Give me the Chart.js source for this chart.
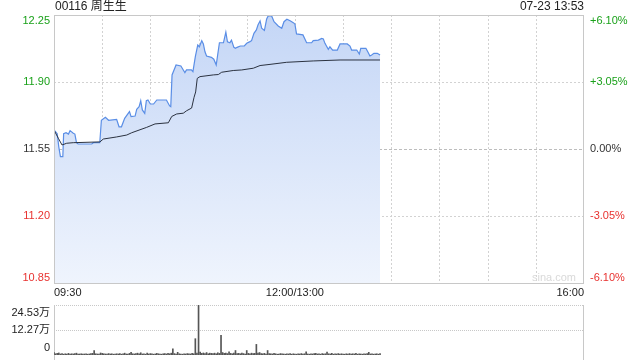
<!DOCTYPE html>
<html><head><meta charset="utf-8">
<script src="https://cdn.jsdelivr.net/npm/chart.js@4.4.0/dist/chart.umd.min.js"></script>
<style>
html,body{margin:0;padding:0;background:#fff;width:640px;height:360px;overflow:hidden}
canvas{position:absolute;left:0}
#c1{top:0}
#c2{top:300px}
</style></head><body>
<canvas id="c1" width="640" height="300"></canvas>
<canvas id="c2" width="640" height="60"></canvas>
<script>
// ---- data ----
const stockTitle = '00116 周生生';
const stamp = '07-23 13:53';
const priceTicks = [10.85, 11.20, 11.55, 11.90, 12.25];
const priceTickColors = ['#e8312f', '#e8312f', '#333333', '#1aa11a', '#1aa11a'];
const pctTicks = [-6.10, -3.05, 0, 3.05, 6.10];
const pctLabels = ['-6.10%', '-3.05%', '0.00%', '+3.05%', '+6.10%'];
const timeGrid = [0, 30, 60, 90, 120, 150, 180, 210, 240, 270, 300, 330];
const timeLabels = {0: '09:30', 150: '12:00/13:00', 330: '16:00'};

const priceTimes = [0,2,3,4,5.5,6,7.5,9,10,12,13,14,15,23.5,24.5,28.5,29.5,32,34,39,40.5,42,44,47,48,50.5,51.5,53,54,55,56.5,57.5,58.5,60,62,64,70,72,72.7,73.5,76,79,80.5,81.5,82.5,85.5,86.5,88,89.5,90.5,92,93,94,95,98,99.5,101,103,105.5,107,108,109.5,110.5,112,113,114,116,118.5,120,122,123,124.5,126,127,128.3,129.3,131,132.4,133.4,135.5,137,139.6,141.8,143.2,145,147,149,150,151,155,157.3,160.4,161.4,164.6,166.7,167.7,168.7,170.8,171.8,173.5,176.4,178.1,182.6,184.3,185.3,188.5,190.1,191,194.2,195.7,196.7,197.8,199.2,201.3,203];
const prices = [11.65,11.63,11.56,11.51,11.51,11.63,11.635,11.628,11.646,11.632,11.628,11.583,11.576,11.576,11.583,11.583,11.70,11.716,11.70,11.705,11.666,11.666,11.71,11.745,11.719,11.722,11.757,11.771,11.802,11.754,11.736,11.802,11.806,11.785,11.785,11.806,11.806,11.775,11.771,11.937,11.989,11.984,11.963,11.949,11.963,11.963,11.954,12.032,12.093,12.084,12.116,12.099,12.058,12.036,12.029,12.019,11.989,12.105,12.105,12.161,12.11,12.105,12.119,12.081,12.076,12.081,12.088,12.088,12.102,12.111,12.116,12.154,12.172,12.198,12.219,12.181,12.169,12.229,12.245,12.245,12.215,12.193,12.181,12.215,12.228,12.22,12.21,12.203,12.151,12.146,12.105,12.105,12.116,12.119,12.128,12.125,12.102,12.071,12.084,12.067,12.067,12.099,12.099,12.088,12.067,12.067,12.046,12.076,12.076,12.053,12.036,12.041,12.05,12.05,12.041];

const avgTimes = [0,2.7,5,7.9,12,28.6,30.7,39,45.3,48.4,57.7,62.9,71.2,73.3,76.4,80.5,82.6,85.7,87.2,88.2,89.2,90.9,99.2,102.3,104.4,111.6,116.9,124.1,128.3,134.5,144.9,161.4,178.1,203];
const avgPrices = [11.649,11.606,11.571,11.58,11.583,11.587,11.602,11.613,11.623,11.635,11.663,11.681,11.687,11.72,11.733,11.737,11.75,11.764,11.82,11.848,11.919,11.928,11.937,11.939,11.951,11.96,11.963,11.972,11.986,11.992,12.003,12.01,12.015,12.015];

// volume per minute, in 万 shares
const volumes = [
1.2,0.6,0.8,1.0,0.5,0.7,0.4,0.6,0.5,0.8, 0.4,0.6,0.5,0.7,0.9,0.4,0.5,0.6,0.4,0.5,
0.6,0.4,0.5,0.7,0.8,2.2,0.6,0.5,0.4,1.0, 0.8,0.6,0.5,0.4,0.7,0.5,0.6,0.4,0.5,0.6,
0.5,0.7,0.4,0.6,0.9,0.5,0.4,0.8,1.3,0.6, 0.5,0.7,0.9,0.6,1.1,0.5,0.6,0.4,1.0,0.5,
0.7,0.6,0.4,0.5,0.8,0.6,0.5,0.4,0.6,0.7, 0.5,0.8,0.6,0.9,3.0,0.7,0.5,1.3,0.6,0.5,
0.4,0.6,0.5,0.7,0.6,0.5,0.8,0.6,8.0,0.9, 24.53,1.4,0.8,1.0,0.7,1.2,0.6,0.9,0.8,0.7,
0.9,0.6,1.1,0.8,9.6,1.2,0.8,0.9,0.7,1.5, 0.8,0.6,0.9,2.2,0.7,0.8,0.6,1.0,0.7,0.5,
2.2,0.8,0.6,0.9,0.7,0.8,5.2,0.9,1.2,0.7, 0.6,0.8,0.5,2.2,0.7,0.6,0.5,0.8,0.6,0.4,
0.5,0.7,0.6,0.5,0.4,0.6,0.5,0.7,0.4,0.6, 0.5,0.4,0.6,0.5,0.7,0.4,0.6,1.6,0.5,0.4,
0.6,0.5,0.7,0.8,0.5,0.6,0.4,0.7,0.5,0.6, 1.4,0.6,0.5,0.8,0.4,0.6,0.5,0.7,0.4,0.6,
0.5,0.4,0.6,0.5,0.7,0.4,0.6,0.5,0.8,0.4, 0.6,0.5,0.4,0.6,0.5,0.7,1.3,0.5,0.6,0.4,
0.5,0.6,0.4,0.7];
const volTicks = [0, 12.27, 24.53];
const volLabels = ['0', '12.27万', '24.53万'];

const FONT = '"Liberation Sans", Arial, "Noto Sans CJK SC", sans-serif';
const edgeOffset = [-5.5, 0, 0, 0, 5.5];

// ---- main price chart ----
const framePlugin = {
  id: 'frame',
  beforeDatasetsDraw(chart) {
    const {ctx, chartArea: a, scales} = chart;
    ctx.save();
    ctx.lineWidth = 1;
    ctx.strokeStyle = '#d2d2d2';
    ctx.setLineDash([2, 2]);
    timeGrid.slice(1, -1).forEach(t => {
      const x = Math.round(scales.x.getPixelForValue(t)) + 0.5;
      ctx.beginPath(); ctx.moveTo(x, a.top); ctx.lineTo(x, a.bottom); ctx.stroke();
    });
    priceTicks.slice(1, -1).forEach(v => {
      const y = Math.round(scales.y.getPixelForValue(v)) + 0.5;
      if (v === 11.55) { ctx.strokeStyle = '#bdbdbd'; ctx.setLineDash([3, 2]); }
      else { ctx.strokeStyle = '#d2d2d2'; ctx.setLineDash([2, 2]); }
      ctx.beginPath(); ctx.moveTo(a.left, y); ctx.lineTo(a.right, y); ctx.stroke();
    });
    ctx.setLineDash([]);
    ctx.fillStyle = '#d9d9d9';
    ctx.font = '11px ' + FONT;
    ctx.textAlign = 'right'; ctx.textBaseline = 'alphabetic';
    ctx.fillText('sina.com', a.right - 8, a.bottom - 2);
    ctx.restore();
  },
  afterDraw(chart) {
    const {ctx, chartArea: a, scales} = chart;
    ctx.save();
    ctx.strokeStyle = '#c8c8c8'; ctx.lineWidth = 1;
    ctx.strokeRect(Math.round(a.left) + 0.5, Math.round(a.top) + 0.5, Math.round(a.right - a.left) - 1, Math.round(a.bottom - a.top));
    // axis labels (placed from the scales; the edge labels sit inside the frame)
    ctx.font = '11px ' + FONT;
    ctx.textBaseline = 'middle';
    priceTicks.forEach((v, i) => {
      const y = scales.y.getPixelForValue(v) + edgeOffset[i];
      ctx.fillStyle = priceTickColors[i];
      ctx.textAlign = 'right';
      ctx.fillText(v.toFixed(2), a.left - 4, y);
    });
    pctTicks.forEach((v, i) => {
      const y = scales.y2.getPixelForValue(v) + edgeOffset[i];
      ctx.fillStyle = priceTickColors[i];
      ctx.textAlign = 'left';
      ctx.fillText(pctLabels[i], a.right + 6, y);
    });
    ctx.fillStyle = '#222';
    ctx.font = '12px ' + FONT;
    ctx.textAlign = 'left';
    ctx.fillText(stockTitle, a.left + 1, 7);
    ctx.textAlign = 'right';
    ctx.fillText(stamp, a.right, 7);
    ctx.restore();
  }
};

new Chart(document.getElementById('c1'), {
  type: 'line',
  data: {
    datasets: [
      {
        label: 'avg',
        data: avgTimes.map((t, i) => ({x: t, y: avgPrices[i]})),
        borderColor: '#2b3240', borderWidth: 1, pointRadius: 0, fill: false, tension: 0
      },
      {
        label: 'price',
        data: priceTimes.map((t, i) => ({x: t, y: prices[i]})),
        borderColor: '#5a8ee6', borderWidth: 1.2, pointRadius: 0, tension: 0,
        fill: 'start',
        backgroundColor: (c) => {
          const a = c.chart.chartArea;
          if (!a) return 'rgba(210,224,248,1)';
          const g = c.chart.ctx.createLinearGradient(0, a.top, 0, a.bottom);
          g.addColorStop(0, 'rgba(196,214,246,1)');
          g.addColorStop(1, 'rgba(239,244,253,1)');
          return g;
        }
      }
    ]
  },
  options: {
    responsive: false, animation: false,
    layout: {padding: {top: 15, left: 0, right: 0, bottom: 0}},
    plugins: {legend: {display: false}, tooltip: {enabled: false}},
    scales: {
      x: {
        type: 'linear', min: 0, max: 330,
        afterBuildTicks: s => { s.ticks = timeGrid.map(v => ({value: v})); },
        afterFit: s => { s.height = 17; },
        ticks: {
          autoSkip: false, maxRotation: 0, align: 'inner', padding: 3,
          color: '#222', font: {size: 11, family: FONT},
          callback: v => timeLabels[v] || ''
        },
        grid: {display: false, drawTicks: false, tickLength: 0}, border: {display: false}
      },
      y: {
        position: 'left', min: 10.85, max: 12.25,
        afterBuildTicks: s => { s.ticks = priceTicks.map(v => ({value: v})); },
        afterFit: s => { s.width = 54; },
        ticks: {display: false},
        grid: {display: false, drawTicks: false, tickLength: 0}, border: {display: false}
      },
      y2: {
        position: 'right', min: -6.10, max: 6.10,
        afterBuildTicks: s => { s.ticks = pctTicks.map(v => ({value: v})); },
        afterFit: s => { s.width = 56; },
        ticks: {display: false},
        grid: {display: false, drawTicks: false, tickLength: 0}, border: {display: false}
      }
    }
  },
  plugins: [framePlugin]
});

// ---- volume chart ----
const volPlugin = {
  id: 'volframe',
  beforeDatasetsDraw(chart) {
    const {ctx, chartArea: a, scales} = chart;
    ctx.save();
    ctx.lineWidth = 1;
    ctx.strokeStyle = '#c8c8c8';
    ctx.setLineDash([1, 1]);
    [volTicks[1], volTicks[2]].forEach(v => {
      const y = Math.round(scales.y.getPixelForValue(v)) + 0.5;
      ctx.beginPath(); ctx.moveTo(a.left, y); ctx.lineTo(a.right, y); ctx.stroke();
    });
    ctx.setLineDash([]);
    const l = Math.round(a.left) + 0.5, r = Math.round(a.right) - 0.5;
    ctx.beginPath(); ctx.moveTo(l, a.top); ctx.lineTo(l, a.bottom + 5); ctx.stroke();
    ctx.beginPath(); ctx.moveTo(r, a.top); ctx.lineTo(r, a.bottom + 5); ctx.stroke();
    ctx.fillStyle = '#222';
    ctx.font = '11px ' + FONT;
    ctx.textAlign = 'right'; ctx.textBaseline = 'middle';
    const offs = [-7, 0, 8];
    volTicks.forEach((v, i) => {
      ctx.fillText(volLabels[i], a.left - 4, scales.y.getPixelForValue(v) + offs[i]);
    });
    ctx.restore();
  }
};

new Chart(document.getElementById('c2'), {
  type: 'bar',
  data: {
    datasets: [{
      data: volumes.map((v, i) => ({x: i, y: v})),
      backgroundColor: '#555', barThickness: 1, borderWidth: 0
    }]
  },
  options: {
    responsive: false, animation: false,
    layout: {padding: {top: 5, left: 54, right: 56, bottom: 5}},
    plugins: {legend: {display: false}, tooltip: {enabled: false}},
    scales: {
      x: {type: 'linear', min: 0, max: 330, display: false, offset: false},
      y: {min: 0, max: 24.53, display: false}
    }
  },
  plugins: [volPlugin]
});
</script>
</body></html>
